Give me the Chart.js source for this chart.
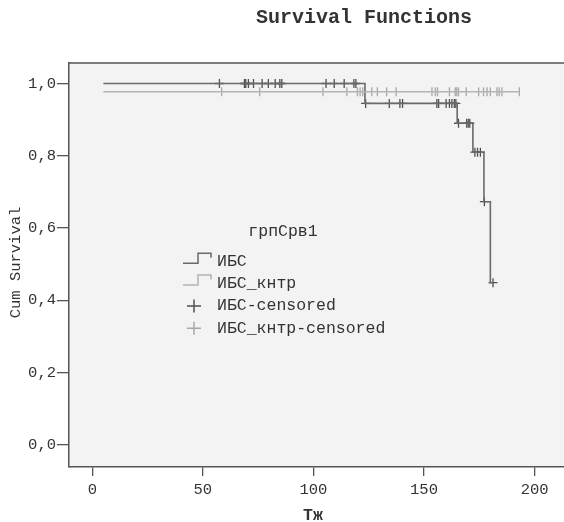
<!DOCTYPE html>
<html>
<head>
<meta charset="utf-8">
<script src="https://cdn.jsdelivr.net/npm/chart.js@4"></script>
<style>
  html, body { margin: 0; padding: 0; background: #fff; overflow: hidden; }
  #kmChart { display: block; }
</style>
</head>
<body>
<canvas id="kmChart" width="564" height="522"></canvas>
<script>
// Kaplan-Meier steps: event time -> cumulative survival after it
const ibsStepTimes = [5, 123.3, 165.0, 172.1, 177.1, 180.0];
const ibsStepSurv  = [1.0, 0.945, 0.890, 0.810, 0.673, 0.449];
const ibsEndTime = 181.2;
const ibsCensorTimes = [57.5, 68.8, 69.4, 70.6, 72.9, 76.8, 79.6, 82.7, 84.8, 85.7,
  105.7, 109.4, 113.9, 118.3, 119.2,
  123.6, 134.3, 139.1, 140.3, 155.8, 156.6, 160.0, 161.5, 162.6, 163.7, 164.4,
  165.6, 169.3, 170.0, 170.7,
  173.0, 174.2, 175.5,
  177.3, 181.2];

const ctrlStepTimes = [5];
const ctrlStepSurv  = [0.977];
const ctrlEndTime = 193.1;
const ctrlCensorTimes = [58.5, 75.7, 104.3, 115.1, 119.9, 121.1, 122.3, 126.4, 128.9,
  133.1, 137.4, 153.6, 155.1, 156.1, 161.5, 164.1, 164.8, 165.6, 169.1, 174.7,
  176.9, 178.5, 180.0, 183.0, 184.0, 185.2, 193.1];

const xTicks = [0, 50, 100, 150, 200];
const yTicks = [0, 0.2, 0.4, 0.6, 0.8, 1.0];
const yTickLabels = ['0,0', '0,2', '0,4', '0,6', '0,8', '1,0'];
const seriesNames = ['ИБС', 'ИБС_кнтр', 'ИБС-censored', 'ИБС_кнтр-censored'];
const legendTitle = 'грпСрв1';

const DARK = '#6a6a6a';
const DARK_MARK = '#505050';
const LIGHT = '#b4b4b4';
const LIGHT_MARK = '#a8a8a8';
const TEXT = '#333333';
const AXIS = '#555555';
const MONO = '"Liberation Mono", "Courier New", monospace';

function survAt(times, surv, t) {
  let s = surv[0];
  for (let i = 0; i < times.length; i++) if (times[i] <= t) s = surv[i];
  return s;
}

function stepPoints(times, surv, end) {
  const pts = times.map((t, i) => ({ x: t, y: surv[i] }));
  pts.push({ x: end, y: surv[surv.length - 1] });
  return pts;
}

function censorPoints(times, stepTimes, stepSurv) {
  return times.map(t => ({ x: t, y: survAt(stepTimes, stepSurv, t) }));
}

// plot background + top border
const plotFrame = {
  id: 'plotFrame',
  beforeDraw(chart) {
    const { ctx, chartArea: a } = chart;
    ctx.save();
    ctx.fillStyle = '#f3f3f3';
    ctx.fillRect(a.left, a.top, a.right - a.left, a.bottom - a.top);
    ctx.restore();
  },
  afterDraw(chart) {
    const { ctx, chartArea: a } = chart;
    ctx.save();
    ctx.strokeStyle = AXIS;
    ctx.lineWidth = 1.5;
    ctx.beginPath();
    ctx.moveTo(a.left, a.top);
    ctx.lineTo(a.right, a.top);
    ctx.stroke();
    ctx.restore();
  }
};

// title, axis titles and the SPSS-style legend inside the plot
const annotations = {
  id: 'annotations',
  afterDraw(chart) {
    const ctx = chart.ctx;
    ctx.save();
    ctx.fillStyle = TEXT;
    ctx.textBaseline = 'middle';
    ctx.textAlign = 'center';

    ctx.font = 'bold 20px ' + MONO;
    ctx.fillText('Survival Functions', 364, 18);

    ctx.font = 'bold 16.5px ' + MONO;
    ctx.fillText('Тж', 313, 516);

    ctx.save();
    ctx.translate(16, 262.5);
    ctx.rotate(-Math.PI / 2);
    ctx.font = '15.5px ' + MONO;
    ctx.fillText('Cum Survival', 0, 0);
    ctx.restore();

    // legend
    ctx.font = '16.5px ' + MONO;
    ctx.fillText(legendTitle, 283, 232);
    ctx.textAlign = 'left';
    const rows = [261.7, 283.5, 306, 328.3];
    const colors = [DARK, LIGHT, DARK_MARK, LIGHT_MARK];
    rows.forEach((cy, i) => {
      ctx.strokeStyle = colors[i];
      ctx.lineWidth = 1.5;
      ctx.beginPath();
      if (i < 2) {
        ctx.moveTo(183, cy + 1.5);
        ctx.lineTo(198, cy + 1.5);
        ctx.lineTo(198, cy - 8.5);
        ctx.lineTo(211, cy - 8.5);
        ctx.lineTo(211, cy - 4);
      } else {
        ctx.moveTo(187, cy);
        ctx.lineTo(201, cy);
        ctx.moveTo(194, cy - 6.5);
        ctx.lineTo(194, cy + 6.5);
      }
      ctx.stroke();
      ctx.fillStyle = TEXT;
      ctx.fillText(seriesNames[i], 217, cy);
    });
    ctx.restore();
  }
};

const tickFont = { family: MONO, size: 15.5 };

new Chart(document.getElementById('kmChart'), {
  type: 'line',
  data: {
    datasets: [
      {
        label: seriesNames[1],
        data: stepPoints(ctrlStepTimes, ctrlStepSurv, ctrlEndTime),
        borderColor: LIGHT,
        borderWidth: 1.6,
        stepped: 'before',
        pointRadius: 0,
        fill: false
      },
      {
        label: seriesNames[3],
        data: censorPoints(ctrlCensorTimes, ctrlStepTimes, ctrlStepSurv),
        showLine: false,
        pointStyle: 'line',
        rotation: 90,
        pointRadius: 4.5,
        pointBorderWidth: 1.3,
        borderColor: LIGHT_MARK,
        backgroundColor: LIGHT_MARK
      },
      {
        label: seriesNames[0],
        data: stepPoints(ibsStepTimes, ibsStepSurv, ibsEndTime),
        borderColor: DARK,
        borderWidth: 1.6,
        stepped: 'before',
        pointRadius: 0,
        fill: false
      },
      {
        label: seriesNames[2],
        data: censorPoints(ibsCensorTimes, ibsStepTimes, ibsStepSurv),
        showLine: false,
        pointStyle: 'cross',
        pointRadius: 4.5,
        pointBorderWidth: 1.3,
        borderColor: DARK_MARK,
        backgroundColor: DARK_MARK
      }
    ]
  },
  options: {
    responsive: false,
    animation: false,
    layout: { autoPadding: false, padding: { top: 63, left: 0, right: 0, bottom: 0 } },
    plugins: {
      legend: { display: false },
      tooltip: { enabled: false },
      title: { display: false }
    },
    scales: {
      x: {
        type: 'linear',
        min: -10.53,
        max: 213.3,
        afterFit: (s) => { s.height = 55; s.paddingLeft = 0; s.paddingRight = 0; },
        afterBuildTicks: (s) => { s.ticks = xTicks.map(v => ({ value: v })); },
        border: { display: true, color: AXIS, width: 1.5 },
        grid: { drawOnChartArea: false, drawTicks: true, tickLength: 9, color: AXIS, lineWidth: 1.3 },
        ticks: { font: tickFont, color: TEXT, padding: 5, maxRotation: 0 }
      },
      y: {
        type: 'linear',
        min: -0.0609,
        max: 1.0567,
        afterFit: (s) => { s.width = 69; s.paddingTop = 0; s.paddingBottom = 0; },
        afterBuildTicks: (s) => { s.ticks = yTicks.map(v => ({ value: v })); },
        border: { display: true, color: AXIS, width: 1.5 },
        grid: { drawOnChartArea: false, drawTicks: true, tickLength: 12, color: AXIS, lineWidth: 1.3 },
        ticks: {
          font: tickFont,
          color: TEXT,
          padding: 1,
          callback: (val) => {
            const i = yTicks.findIndex(v => Math.abs(v - val) < 1e-6);
            return i >= 0 ? yTickLabels[i] : '';
          }
        }
      }
    }
  },
  plugins: [plotFrame, annotations]
});
</script>
</body>
</html>
